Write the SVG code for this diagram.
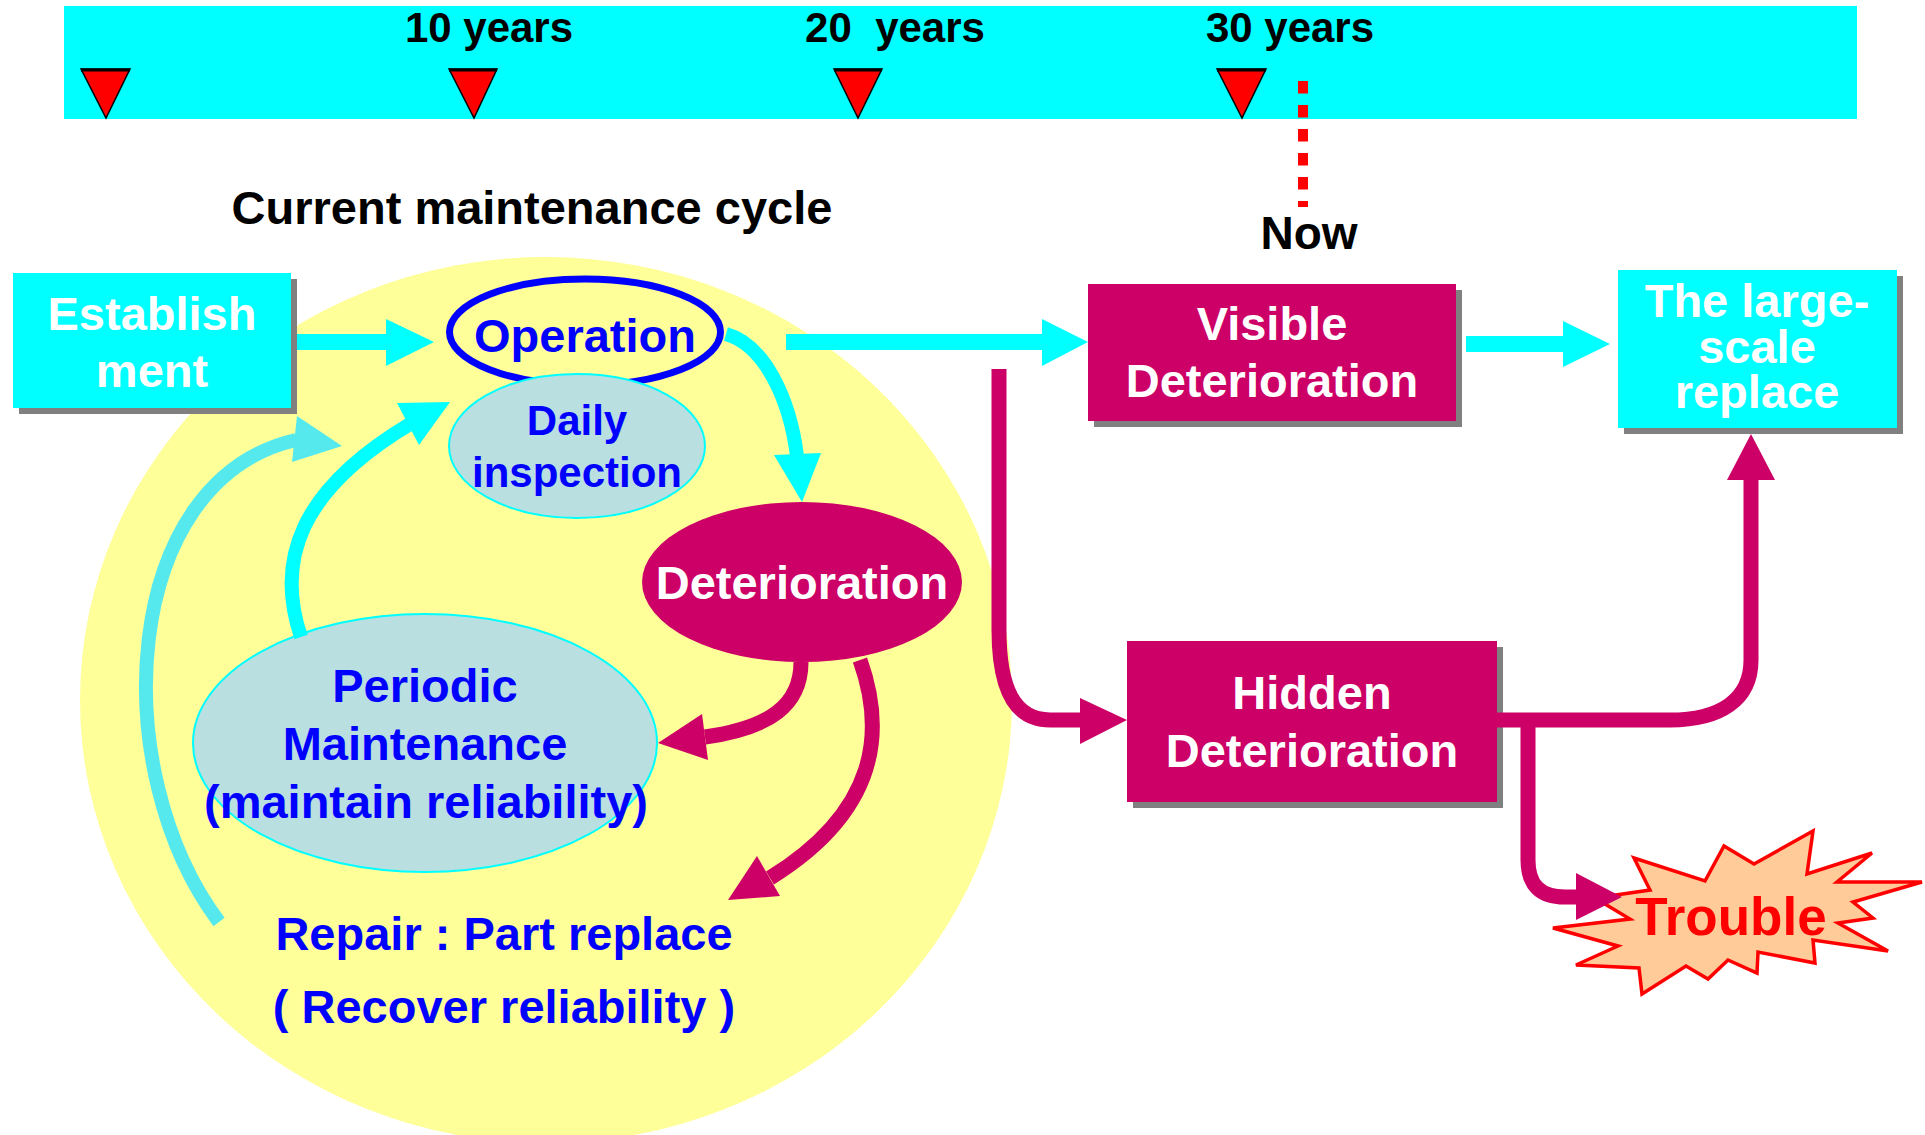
<svg xmlns="http://www.w3.org/2000/svg" width="1925" height="1135" viewBox="0 0 1925 1135">
<style>
text{font-family:"Liberation Sans",Arial,Helvetica,sans-serif;font-weight:bold;text-anchor:middle}
.w{fill:#FFFFFF;font-size:47px}
.b{fill:#0000FF;font-size:47px}
.k{fill:#000000;font-size:42px}
.sh{fill:#808080}
.cy{fill:#00FFFF}
.cyl{fill:none;stroke:#00FFFF;stroke-width:14}
.cyo{fill:none;stroke:#55E9EE;stroke-width:14}
.mg{fill:#CC0066}
.mgl{fill:none;stroke:#CC0066;stroke-width:15}
.tri{fill:#FF0000;stroke:#000000;stroke-width:1.5;stroke-linejoin:miter}
.tt{stroke:#000000;stroke-width:3}
</style>

<!-- timeline banner -->
<g id="timeline">
  <rect x="64" y="6" width="1793" height="113" fill="#00FFFF"/>
  <polygon class="tri" points="81,69 130,69 106,118"/>
  <line class="tt" x1="81" y1="70" x2="130" y2="70"/>
  <polygon class="tri" points="449,69 497,69 474,118"/>
  <line class="tt" x1="449" y1="70" x2="497" y2="70"/>
  <polygon class="tri" points="834,69 882,69 858,118"/>
  <line class="tt" x1="834" y1="70" x2="882" y2="70"/>
  <polygon class="tri" points="1217,69 1266,69 1242,118"/>
  <line class="tt" x1="1217" y1="70" x2="1266" y2="70"/>
  <text class="k" x="489" y="42">10 years</text>
  <text class="k" x="895" y="42" xml:space="preserve">20  years</text>
  <text class="k" x="1290" y="42">30 years</text>
  <line x1="1303" y1="81" x2="1303" y2="207" stroke="#FF0000" stroke-width="10" stroke-dasharray="12.5 11.5"/>
  <text x="1309" y="249" style="font-size:46px;fill:#000">Now</text>
</g>

<!-- cycle background -->
<ellipse id="cycle-area" cx="546" cy="700" rx="466" ry="443" fill="#FFFF99"/>
<text x="532" y="224" style="font-size:47px;fill:#000">Current maintenance cycle</text>

<!-- nodes -->
<g id="nodes">
  <g id="establishment">
    <rect class="sh" x="19" y="279" width="278" height="135"/>
    <rect class="cy" x="13" y="273" width="278" height="135"/>
    <text class="w" x="152" y="330">Establish</text>
    <text class="w" x="152" y="387">ment</text>
  </g>
  <g id="operation">
    <ellipse cx="585" cy="332" rx="135.5" ry="53" fill="#FFFF99" stroke="#0000FF" stroke-width="7"/>
    <text class="b" x="585" y="352">Operation</text>
  </g>
  <g id="daily-inspection">
    <ellipse cx="577" cy="446" rx="128" ry="72" fill="#B9DFE1" stroke="#00FFFF" stroke-width="2"/>
    <text class="b" x="577" y="435" style="font-size:42px">Daily</text>
    <text class="b" x="577" y="487" style="font-size:42px">inspection</text>
  </g>
  <g id="deterioration">
    <ellipse cx="802" cy="582" rx="160" ry="80" fill="#CC0066"/>
    <text class="w" x="802" y="599">Deterioration</text>
  </g>
  <g id="periodic-maintenance">
    <ellipse cx="425" cy="743" rx="232" ry="129" fill="#B9DFE1" stroke="#00FFFF" stroke-width="2"/>
    <text class="b" x="425" y="702">Periodic</text>
    <text class="b" x="425" y="760">Maintenance</text>
    <text class="b" x="426" y="818">(maintain reliability)</text>
  </g>
  <g id="repair">
    <text class="b" x="504" y="950">Repair : Part replace</text>
    <text class="b" x="504" y="1023">( Recover reliability )</text>
  </g>
  <g id="visible-deterioration">
    <rect class="sh" x="1094" y="290" width="368" height="137"/>
    <rect class="mg" x="1088" y="284" width="368" height="137"/>
    <text class="w" x="1272" y="340">Visible</text>
    <text class="w" x="1272" y="397">Deterioration</text>
  </g>
  <g id="large-scale-replace">
    <rect class="sh" x="1624" y="276" width="279" height="158"/>
    <rect class="cy" x="1618" y="270" width="279" height="158"/>
    <text class="w" x="1757" y="317">The large-</text>
    <text class="w" x="1757" y="363">scale</text>
    <text class="w" x="1757" y="408">replace</text>
  </g>
  <g id="hidden-deterioration">
    <rect class="sh" x="1133" y="647" width="370" height="161"/>
    <rect class="mg" x="1127" y="641" width="370" height="161"/>
    <text class="w" x="1312" y="709">Hidden</text>
    <text class="w" x="1312" y="767">Deterioration</text>
  </g>
  <g id="trouble">
    <polygon points="1813,831 1807,874 1872,853 1837,882 1922,882 1853,902 1873,918 1838,923 1888,951 1813,940 1815,963 1758,952 1757,973 1728,960 1708,979 1686,966 1642,994 1639,968 1576,965 1618,946 1553,928 1630,919 1595,898 1650,890 1634,858 1705,881 1724,846 1754,864" fill="#FFCC99" stroke="#FF0000" stroke-width="3.5" stroke-linejoin="miter"/>
    <text x="1731" y="935" style="font-size:53px;fill:#FF0000">Trouble</text>
  </g>
</g>

<!-- connectors -->
<g id="connectors">
  <polygon class="cy" points="297,334 386,334 386,319 434,342 386,366 386,350 297,350"/>
  <polygon class="cy" points="786,334 1042,334 1042,319 1088,342 1042,366 1042,350 786,350"/>
  <polygon class="cy" points="1466,336 1563,336 1563,321 1610,344 1563,367 1563,352 1466,352"/>

  <path class="cyl" d="M726,334 C765,345 790,400 797,456"/>
  <polygon class="cy" points="774,455 821,453 802,502"/>

  <path class="cyl" d="M301,637 C275,560 300,490 410,424"/>
  <polygon class="cy" points="397,403 450,402 419,445"/>

  <path class="cyo" d="M219,922 C105,770 120,480 296,440"/>
  <polygon fill="#55E9EE" points="297,416 342,446 292,462"/>

  <path class="mgl" d="M801,662 C801,705 770,728 705,737"/>
  <polygon class="mg" points="702,714 708,760 658,743"/>

  <path class="mgl" d="M860,660 C885,730 880,810 770,878"/>
  <polygon class="mg" points="757,856 780,896 728,900"/>

  <path class="mgl" d="M999,369 L999,630 C999,690 1015,720 1050,720 L1082,720"/>
  <polygon class="mg" points="1080,698 1127,720 1080,744"/>

  <path class="mgl" d="M1497,720 L1670,720 C1720,720 1751,700 1751,660 L1751,478"/>
  <polygon class="mg" points="1727,480 1751,434 1775,480"/>

  <path class="mgl" d="M1528,720 L1528,860 C1528,885 1540,897 1565,897 L1578,897"/>
  <polygon class="mg" points="1576,873 1622,897 1576,920"/>
</g>
</svg>
